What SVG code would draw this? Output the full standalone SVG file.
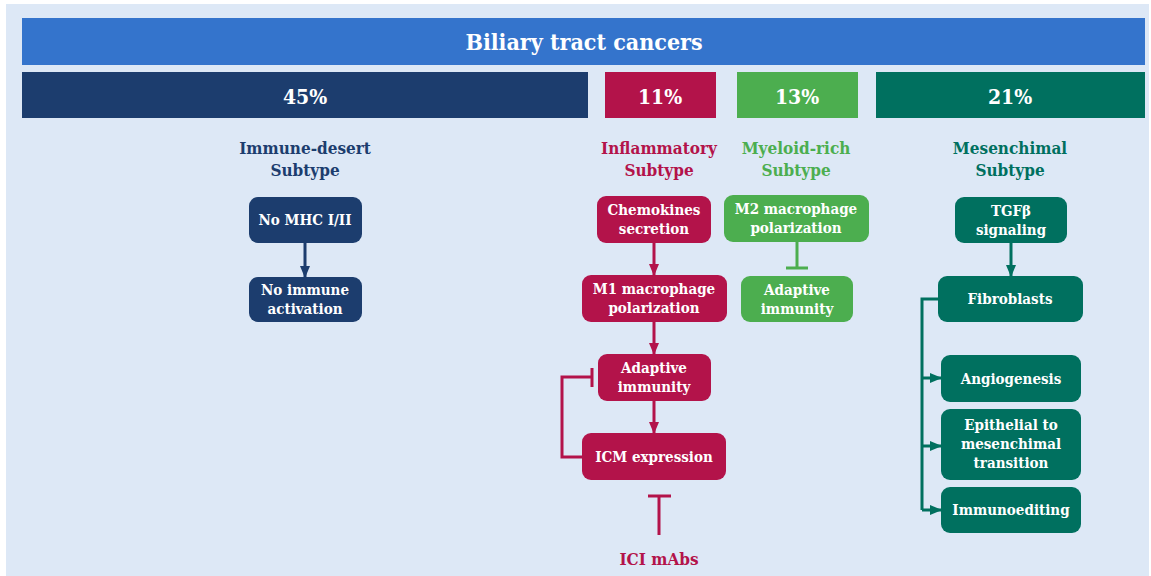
<svg xmlns="http://www.w3.org/2000/svg" width="1151" height="576" viewBox="0 0 1151 576">
<defs>
<style>
text{font-family:"DejaVu Serif Condensed","DejaVu Serif",serif;font-weight:bold;text-anchor:middle}
.nt{fill:#fff;font-size:15px}
.st{font-size:17px}
.pc{fill:#fff;font-size:21px}
.navy{fill:#1c3d6e}.red{fill:#b3134a}.lg{fill:#4cae4f}.teal{fill:#00705f}
.ln{fill:none;stroke-width:3}
</style>
<marker id="aN" markerWidth="12" markerHeight="10" refX="11" refY="5" orient="auto" markerUnits="userSpaceOnUse"><path d="M0,0 L12,5 L0,10 z" fill="#1c3d6e"/></marker>
<marker id="aR" markerWidth="12" markerHeight="10" refX="11" refY="5" orient="auto" markerUnits="userSpaceOnUse"><path d="M0,0 L12,5 L0,10 z" fill="#b3134a"/></marker>
<marker id="aT" markerWidth="12" markerHeight="10" refX="11" refY="5" orient="auto" markerUnits="userSpaceOnUse"><path d="M0,0 L12,5 L0,10 z" fill="#00705f"/></marker>
</defs>
<rect x="0" y="0" width="1151" height="576" fill="#fff"/>
<rect x="6" y="4" width="1143" height="572" fill="#dde8f6"/>

<g id="title"><rect x="22" y="18" width="1123" height="47" fill="#3474cc"/><text x="584" y="50" fill="#fff" font-size="23">Biliary tract cancers</text></g>

<g id="bar45"><rect x="22" y="72" width="566" height="46" class="navy"/><text x="305" y="104" class="pc">45%</text></g>
<g id="bar11"><rect x="605" y="72" width="111" height="46" class="red"/><text x="660" y="104" class="pc">11%</text></g>
<g id="bar13"><rect x="737" y="72" width="121" height="46" class="lg"/><text x="797" y="104" class="pc">13%</text></g>
<g id="bar21"><rect x="876" y="72" width="269" height="46" class="teal"/><text x="1010" y="104" class="pc">21%</text></g>

<g id="sub-immune"><text x="305" y="154" class="st navy">Immune-desert</text><text x="305" y="176" class="st navy">Subtype</text></g>
<g id="sub-inflam"><text x="659" y="154" class="st red">Inflammatory</text><text x="659" y="176" class="st red">Subtype</text></g>
<g id="sub-myeloid"><text x="796" y="154" class="st lg">Myeloid-rich</text><text x="796" y="176" class="st lg">Subtype</text></g>
<g id="sub-mesen"><text x="1010" y="154" class="st teal">Mesenchimal</text><text x="1010" y="176" class="st teal">Subtype</text></g>

<g id="n-nomhc"><rect x="249" y="197" width="113" height="46" rx="9" class="navy"/><text x="305" y="225" class="nt">No MHC I/II</text></g>
<g id="n-noimmune"><rect x="249" y="277" width="113" height="45" rx="9" class="navy"/><text x="305" y="295" class="nt">No immune</text><text x="305" y="314" class="nt">activation</text></g>

<g id="n-chemo"><rect x="597" y="196" width="114" height="47" rx="9" class="red"/><text x="654" y="215" class="nt">Chemokines</text><text x="654" y="234" class="nt">secretion</text></g>
<g id="n-m1"><rect x="582" y="275" width="145" height="47" rx="9" class="red"/><text x="654" y="294" class="nt">M1 macrophage</text><text x="654" y="313" class="nt">polarization</text></g>
<g id="n-adapt-r"><rect x="598" y="354" width="113" height="47" rx="9" class="red"/><text x="654" y="373" class="nt">Adaptive</text><text x="654" y="392" class="nt">immunity</text></g>
<g id="n-icm"><rect x="582" y="433" width="144" height="47" rx="9" class="red"/><text x="654" y="462" class="nt">ICM expression</text></g>
<g id="n-ici"><text x="659" y="565" class="st red">ICI mAbs</text></g>

<g id="n-m2"><rect x="724" y="195" width="145" height="47" rx="9" class="lg"/><text x="796" y="214" class="nt">M2 macrophage</text><text x="796" y="233" class="nt">polarization</text></g>
<g id="n-adapt-g"><rect x="741" y="276" width="112" height="46" rx="9" class="lg"/><text x="797" y="295" class="nt">Adaptive</text><text x="797" y="314" class="nt">immunity</text></g>

<g id="n-tgf"><rect x="955" y="197" width="112" height="46" rx="9" class="teal"/><text x="1011" y="216" class="nt">TGFβ</text><text x="1011" y="235" class="nt">signaling</text></g>
<g id="n-fibro"><rect x="938" y="276" width="145" height="46" rx="9" class="teal"/><text x="1010" y="304" class="nt">Fibroblasts</text></g>
<g id="n-angio"><rect x="941" y="355" width="140" height="47" rx="9" class="teal"/><text x="1011" y="384" class="nt">Angiogenesis</text></g>
<g id="n-emt"><rect x="941" y="409" width="140" height="71" rx="9" class="teal"/><text x="1011" y="430" class="nt">Epithelial to</text><text x="1011" y="449" class="nt">mesenchimal</text><text x="1011" y="468" class="nt">transition</text></g>
<g id="n-immuno"><rect x="941" y="487" width="140" height="46" rx="9" class="teal"/><text x="1011" y="515" class="nt">Immunoediting</text></g>

<g id="connectors">
<line x1="305" y1="243" x2="305" y2="277" stroke="#1c3d6e" class="ln" marker-end="url(#aN)"/>
<line x1="654" y1="243" x2="654" y2="275" stroke="#b3134a" class="ln" marker-end="url(#aR)"/>
<line x1="654" y1="322" x2="654" y2="354" stroke="#b3134a" class="ln" marker-end="url(#aR)"/>
<line x1="654" y1="401" x2="654" y2="433" stroke="#b3134a" class="ln" marker-end="url(#aR)"/>
<path d="M582,457 L562,457 L562,377 L592,377" stroke="#b3134a" class="ln"/>
<line x1="592" y1="368" x2="592" y2="387" stroke="#b3134a" stroke-width="3"/>
<line x1="659" y1="496" x2="659" y2="535" stroke="#b3134a" stroke-width="3"/>
<line x1="648" y1="496" x2="671" y2="496" stroke="#b3134a" stroke-width="3"/>
<line x1="797" y1="242" x2="797" y2="268" stroke="#4cae4f" stroke-width="3"/>
<line x1="786" y1="268" x2="808" y2="268" stroke="#4cae4f" stroke-width="3"/>
<line x1="1011" y1="243" x2="1011" y2="276" stroke="#00705f" class="ln" marker-end="url(#aT)"/>
<path d="M938,299 L922,299 L922,510" stroke="#00705f" class="ln"/>
<line x1="922" y1="378" x2="941" y2="378" stroke="#00705f" class="ln" marker-end="url(#aT)"/>
<line x1="922" y1="446" x2="941" y2="446" stroke="#00705f" class="ln" marker-end="url(#aT)"/>
<line x1="922" y1="510" x2="941" y2="510" stroke="#00705f" class="ln" marker-end="url(#aT)"/>
</g>
</svg>
